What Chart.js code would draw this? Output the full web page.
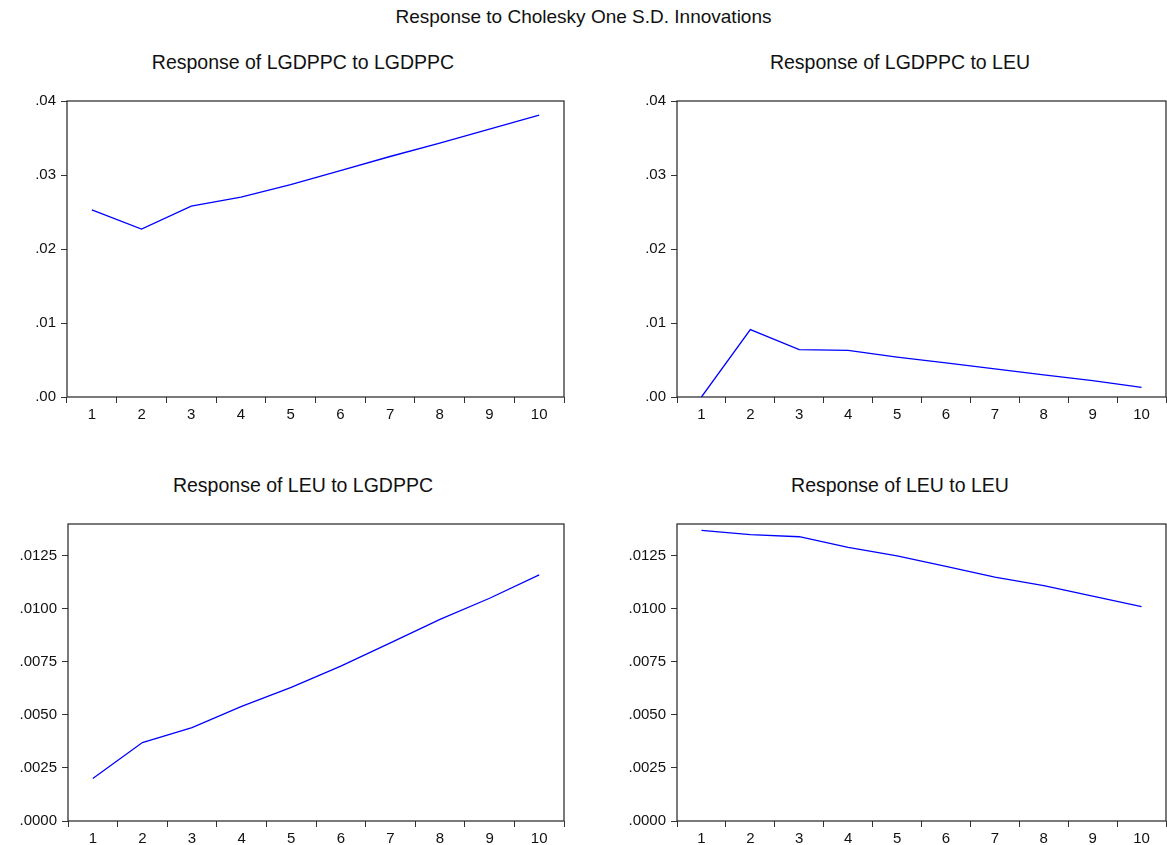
<!DOCTYPE html>
<html>
<head>
<meta charset="utf-8">
<script src="https://cdn.jsdelivr.net/npm/chart.js@4/dist/chart.umd.min.js"></script>
<style>
  html, body { margin: 0; padding: 0; background: #fff; overflow: hidden; }
  body { width: 1167px; height: 845px; position: relative; font-family: "Liberation Sans", Arial, sans-serif; color: #111; }
  canvas { position: absolute; }
  .title { position: absolute; text-align: center; white-space: nowrap; }
  .main { font-size: 19px; line-height: 22px; }
  .sub { font-size: 19.5px; line-height: 20px; width: 400px; }
</style>
</head>
<body>
<div class="title main" style="left:0; width:1167px; top:6px;">Response to Cholesky One S.D. Innovations</div>
<div class="title sub" style="left:103px; top:52px;">Response of LGDPPC to LGDPPC</div>
<div class="title sub" style="left:700px; top:52px;">Response of LGDPPC to LEU</div>
<div class="title sub" style="left:103px; top:475px;">Response of LEU to LGDPPC</div>
<div class="title sub" style="left:700px; top:475px;">Response of LEU to LEU</div>

<canvas id="c1" width="580" height="340" style="left:0; top:87px;"></canvas>
<canvas id="c2" width="567" height="340" style="left:600px; top:87px;"></canvas>
<canvas id="c3" width="580" height="335" style="left:0; top:510px;"></canvas>
<canvas id="c4" width="567" height="335" style="left:600px; top:510px;"></canvas>

<script>
// --- Data ---
const periods = ["1","2","3","4","5","6","7","8","9","10"];
const gdpToGdp = [0.0253, 0.0227, 0.0258, 0.0270, 0.0287, 0.0306, 0.0325, 0.0343, 0.0362, 0.0381];
const gdpToLeu = [0.0000, 0.0091, 0.0064, 0.0063, 0.0054, 0.0046, 0.0038, 0.0030, 0.0022, 0.0013];
const leuToGdp = [0.0020, 0.0037, 0.0044, 0.0054, 0.0063, 0.0073, 0.0084, 0.0095, 0.0105, 0.0116];
const leuToLeu = [0.0137, 0.0135, 0.0134, 0.0129, 0.0125, 0.0120, 0.0115, 0.0111, 0.0106, 0.0101];

const topTicks = [0, 0.01, 0.02, 0.03, 0.04];
const bottomTicks = [0, 0.0025, 0.005, 0.0075, 0.01, 0.0125];

const tickFont = { family: "Liberation Sans, Arial, sans-serif", size: 15 };

// --- frame round the plot area ---
const frame = {
  id: "frame",
  beforeDatasetsDraw(chart) {
    const { ctx, chartArea: a } = chart;
    ctx.save();
    ctx.strokeStyle = "#222";
    ctx.lineWidth = 1.2;
    ctx.strokeRect(a.left, a.top, a.right - a.left, a.bottom - a.top);
    ctx.restore();
  }
};

function makePanel(id, values, yTicks, yMax, decimals, yWidth, padRight, xHeight) {
  return new Chart(document.getElementById(id), {
    type: "line",
    data: {
      labels: periods,
      datasets: [{
        data: values,
        borderColor: "#0000ff",
        borderWidth: 1.3,
        pointRadius: 0,
        tension: 0,
        fill: false
      }]
    },
    options: {
      responsive: false,
      animation: false,
      layout: { padding: { top: 10, right: padRight, left: 0, bottom: 0 } },
      plugins: { legend: { display: false }, tooltip: { enabled: false } },
      scales: {
        x: {
          type: "category",
          offset: true,
          grid: { offset: true, drawOnChartArea: false, tickLength: 6, color: "#333" },
          border: { display: false },
          ticks: { font: tickFont, color: "#111", padding: 3, maxRotation: 0, autoSkip: false },
          afterFit: s => { s.height = xHeight; }
        },
        y: {
          min: 0,
          max: yMax,
          afterBuildTicks: s => { s.ticks = yTicks.map(v => ({ value: v })); },
          afterFit: s => { s.width = yWidth; },
          grid: { drawOnChartArea: false, tickLength: 6, color: "#333" },
          border: { display: false },
          ticks: {
            font: tickFont,
            color: "#111",
            padding: 5,
            callback: v => v.toFixed(decimals).replace(/^0/, "")
          }
        }
      }
    },
    plugins: [frame]
  });
}

makePanel("c1", gdpToGdp, topTicks, 0.04, 2, 67, 16, 30);
makePanel("c2", gdpToLeu, topTicks, 0.04, 2, 77, 1, 30);
makePanel("c3", leuToGdp, bottomTicks, 0.014, 4, 68, 16, 24);
makePanel("c4", leuToLeu, bottomTicks, 0.014, 4, 77, 1, 24);
</script>
</body>
</html>
